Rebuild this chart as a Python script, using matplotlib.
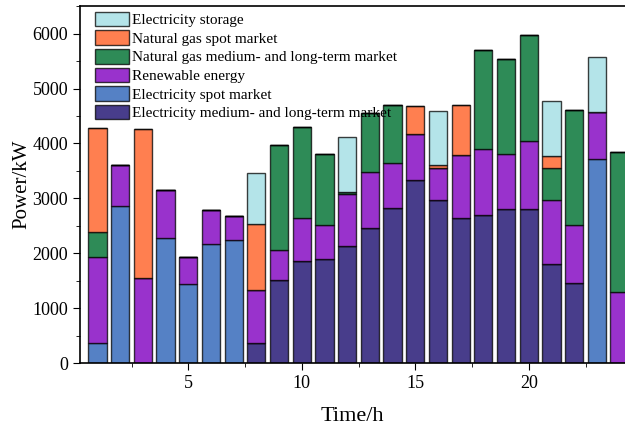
import numpy as np
import matplotlib
matplotlib.use('Agg')
import matplotlib.pyplot as plt
from matplotlib.ticker import MultipleLocator

plt.rcParams['font.family'] = ['Liberation Serif', 'DejaVu Serif']

hours = np.arange(1, 25)

# values, kW
elec_mlt = [0, 0, 0, 0, 0, 0, 0, 377, 1508, 1866, 1897, 2128,
            2468, 2827, 3338, 2966, 2639, 2705, 2803, 2814, 1811, 1465, 0, 0]
elec_spot = [377, 2870, 0, 2280, 1435, 2165, 2250, 0, 0, 0, 0, 0,
             0, 0, 0, 0, 0, 0, 0, 0, 0, 0, 3726, 0]
renewable = [1551, 730, 1545, 870, 505, 625, 430, 960, 553, 773, 614, 954,
             1015, 821, 839, 584, 1155, 1198, 1003, 1223, 1162, 1046, 839, 1289]
gas_mlt = [455, 0, 0, 0, 0, 0, 0, 0, 1915, 1653, 1301, 30,
           1077, 1058, 0, 0, 0, 1793, 1739, 1933, 578, 2103, 0, 2553]
gas_spot = [1897, 0, 2717, 0, 0, 0, 0, 1193, 0, 0, 0, 0,
            0, 0, 510, 55, 912, 0, 0, 0, 219, 0, 0, 0]
storage = [0, 0, 0, 0, 0, 0, 0, 940, 0, 0, 0, 1010,
           0, 0, 0, 990, 0, 0, 0, 0, 1003, 0, 1003, 0]

series = [
    ('Electricity medium- and long-term market', elec_mlt, '#483d8b'),
    ('Electricity spot market', elec_spot, '#5581c5'),
    ('Renewable energy', renewable, '#9932cc'),
    ('Natural gas medium- and long-term market', gas_mlt, '#2e8b57'),
    ('Natural gas spot market', gas_spot, '#ff7f50'),
    ('Electricity storage', storage, '#b4e4e9'),
]

fig = plt.figure(figsize=(6.25, 4.34), dpi=100)
ax = fig.add_axes([0.128, 0.163, 0.872, 0.823])

bottom = np.zeros(len(hours))
handles = []
for name, vals, col in series:
    vals = np.array(vals, dtype=float)
    b = ax.bar(hours, vals, width=0.8, bottom=bottom, color=col,
               edgecolor=(0, 0, 0, 0.75), linewidth=1.0, label=name)
    handles.append(b)
    bottom += vals

ax.set_xlim(0.23, 24.24)
ax.set_ylim(0, 6500)
ax.xaxis.set_major_locator(MultipleLocator(5))
ax.xaxis.set_minor_locator(MultipleLocator(2.5))
ax.yaxis.set_major_locator(MultipleLocator(1000))
ax.yaxis.set_minor_locator(MultipleLocator(500))
ax.tick_params(which='major', direction='out', length=5, labelsize=13)
ax.tick_params(which='minor', direction='out', length=3)
ax.spines['right'].set_visible(False)
for s in ['left', 'bottom', 'top']:
    ax.spines[s].set_linewidth(1.2)

ax.set_xlabel('Time/h', fontsize=16, labelpad=11)
ax.set_ylabel('Power/kW', fontsize=15)
ax.yaxis.set_label_coords(-0.09, 0.5)

ax.legend(handles[::-1], [s[0] for s in series][::-1], loc='upper left',
          bbox_to_anchor=(0.0275, 0.984), frameon=False, fontsize=11,
          handlelength=2.2, handleheight=1.1, labelspacing=0.2,
          handletextpad=0.25, borderaxespad=0, borderpad=0)

fig.savefig('out.png', dpi=100)
